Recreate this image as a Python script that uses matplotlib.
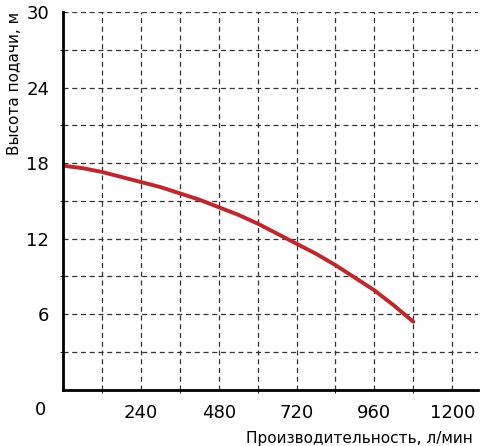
import matplotlib
matplotlib.use("Agg")
import matplotlib.pyplot as plt
import numpy as np

flow = [0, 60, 120, 180, 240, 300, 360, 420, 480, 540, 600, 660, 720, 780, 840, 900, 960, 1020, 1080]
head = [17.8, 17.6, 17.3, 16.9, 16.5, 16.1, 15.6, 15.1, 14.5, 13.9, 13.2, 12.4, 11.6, 10.8, 9.9, 8.9, 7.9, 6.7, 5.4]
xticks = [0, 240, 480, 720, 960, 1200]
yticks = [6, 12, 18, 24, 30]

fig = plt.figure(figsize=(4.85, 4.46), dpi=100)
ax = fig.add_axes([0.13, 0.126, 0.856, 0.847])
ax.set_xlim(0, 1280)
ax.set_ylim(0, 30)
ax.set_xticks(np.arange(120, 1280, 120), minor=True)
ax.set_yticks(np.arange(3, 30, 3), minor=True)
ax.grid(True, which="minor", linestyle=(0, (4, 3)), color="#333333", linewidth=0.9)
ax.grid(True, which="major", linestyle=(0, (4, 3)), color="#333333", linewidth=0.9)
ax.set_xticks(xticks)
ax.set_yticks(yticks)
ax.tick_params(labelsize=13, length=0, pad=10)
for s in ["top", "right"]:
    ax.spines[s].set_visible(False)
for s in ["left", "bottom"]:
    ax.spines[s].set_linewidth(2)
ax.plot(flow, head, color="#c0262c", linewidth=2.8, solid_capstyle="round")
ax.text(-0.135, 1.0, "Высота подачи, м", rotation=90, transform=ax.transAxes,
        ha="left", va="top", fontsize=11)
ax.text(0.44, -0.13, "Производительность, л/мин", transform=ax.transAxes,
        ha="left", va="center", fontsize=11)
ax.text(-0.04, -0.03, "0", transform=ax.transAxes, ha="right", va="top", fontsize=13)
ax.set_xticklabels([""] + [str(v) for v in xticks[1:]])
fig.savefig("out.png", dpi=100)
